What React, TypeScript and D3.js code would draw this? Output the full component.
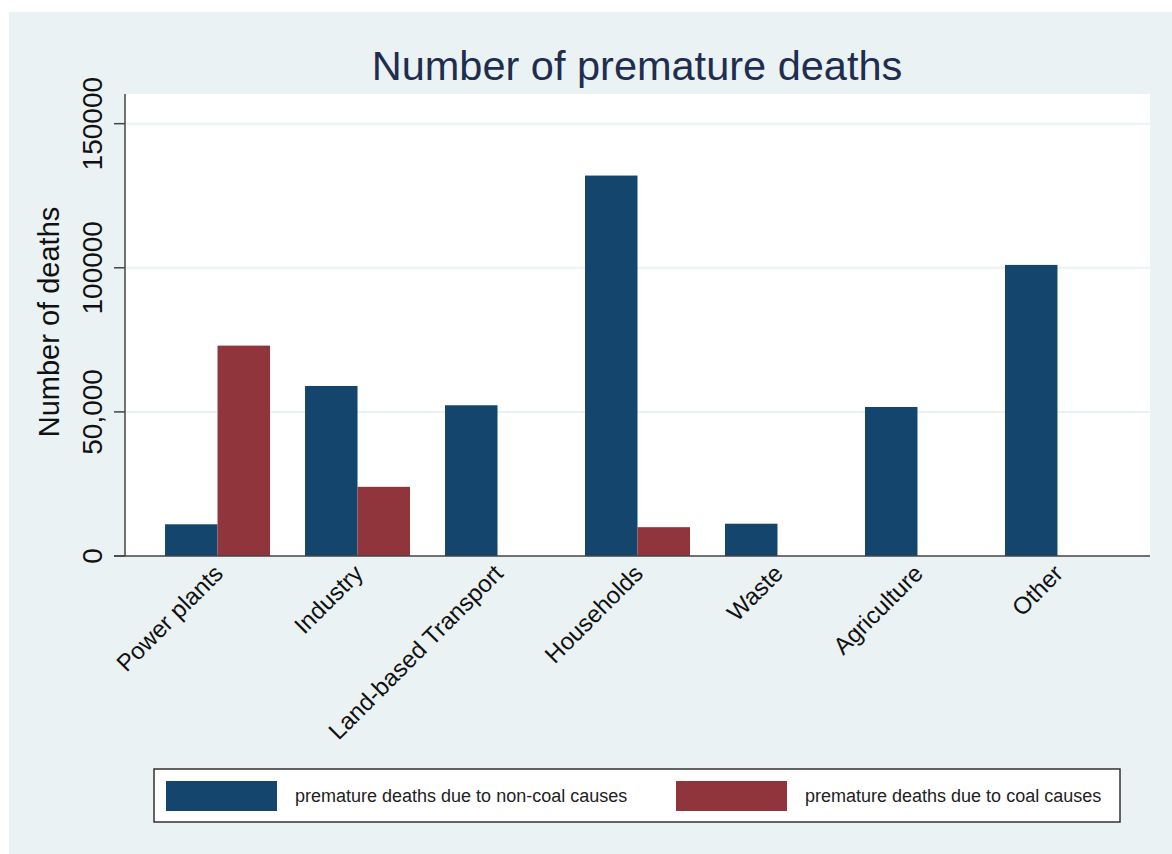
import React from "react";
import * as d3 from "d3";

const categories = ["Power plants", "Industry", "Land-based Transport", "Households", "Waste", "Agriculture", "Other"];
const nonCoal = [11000, 59000, 52300, 132000, 11200, 51700, 101000];
const coal = [73000, 24000, 0, 10000, 0, 0, 0];
const yTicks = [0, 50000, 100000, 150000];
const yTickLabels = ["0", "50,000", "100000", "150000"];
const seriesNames = ["premature deaths due to non-coal causes", "premature deaths due to coal causes"];

const W = 1172;
const H = 854;
const FONT = "'Liberation Sans', Arial, sans-serif";
const BLUE = "#14466d";
const RED = "#90353b";
const BG = "#eaf2f3";

const App = () => {
    const left = 125, right = 1150, top = 94, bottom = 556;

    const x = d3.scaleBand<string>()
        .domain(categories)
        .range([left, right])
        .paddingInner(0.25)
        .paddingOuter(0.286);

    const xs = d3.scaleBand<string>()
        .domain(["nonCoal", "coal"])
        .range([0, x.bandwidth()]);

    const y = d3.scaleLinear().domain([0, 160300]).range([bottom, top]);

    return (
        <svg width={W} height={H} style={{ position: "absolute", left: 0, top: 0 }}>
            <rect x={0} y={0} width={W} height={H} fill="#ffffff" />
            <rect x={9} y={12} width={W - 9} height={H - 12} fill={BG} />
            <rect x={left} y={top} width={right - left} height={bottom - top} fill="#ffffff" />

            {/* gridlines */}
            {yTicks.filter(t => t > 0).map(t => (
                <line key={t} x1={left} x2={right} y1={y(t)} y2={y(t)} stroke={BG} strokeWidth={2} />
            ))}

            {/* bars */}
            {categories.map((c, i) => (
                <g key={c} transform={`translate(${x(c)},0)`}>
                    <rect x={xs("nonCoal")} y={y(nonCoal[i])} width={xs.bandwidth()}
                        height={y(0) - y(nonCoal[i])} fill={BLUE} />
                    {coal[i] > 0 && (
                        <rect x={xs("coal")} y={y(coal[i])} width={xs.bandwidth()}
                            height={y(0) - y(coal[i])} fill={RED} />
                    )}
                </g>
            ))}

            {/* axes */}
            <line x1={left} x2={left} y1={top} y2={bottom} stroke="#444" strokeWidth={1.5} />
            <line x1={left - 11} x2={right} y1={bottom} y2={bottom} stroke="#444" strokeWidth={1.5} />
            {yTicks.map((t, i) => (
                <g key={t}>
                    <line x1={left - 11} x2={left} y1={y(t)} y2={y(t)} stroke="#444" strokeWidth={1.5} />
                    <text transform={`translate(102,${y(t)}) rotate(-90)`} textAnchor="middle"
                        fontFamily={FONT} fontSize={28} fill="#111">{yTickLabels[i]}</text>
                </g>
            ))}

            {/* x labels */}
            {categories.map(c => {
                const cx = (x(c) as number) + x.bandwidth() / 2;
                return (
                    <text key={c} transform={`translate(${cx + 7},${bottom + 19}) rotate(-45)`}
                        textAnchor="end" fontFamily={FONT} fontSize={24} fill="#111">{c}</text>
                );
            })}

            {/* titles */}
            <text x={637} y={80} textAnchor="middle" fontFamily={FONT} fontSize={41.5} fill="#1e2d50">
                Number of premature deaths
            </text>
            <text transform="translate(59,322) rotate(-90)" textAnchor="middle" fontFamily={FONT}
                fontSize={29} fill="#111">Number of deaths</text>

            {/* legend */}
            <rect x={154} y={769} width={966} height={53} fill="#ffffff" stroke="#333" strokeWidth={1.5} />
            <rect x={166} y={781} width={111} height={30} fill={BLUE} />
            <text x={295} y={802} fontFamily={FONT} fontSize={18} fill="#222">{seriesNames[0]}</text>
            <rect x={676} y={781} width={111} height={30} fill={RED} />
            <text x={805} y={802} fontFamily={FONT} fontSize={18} fill="#222">{seriesNames[1]}</text>
        </svg>
    );
};

export default App;
